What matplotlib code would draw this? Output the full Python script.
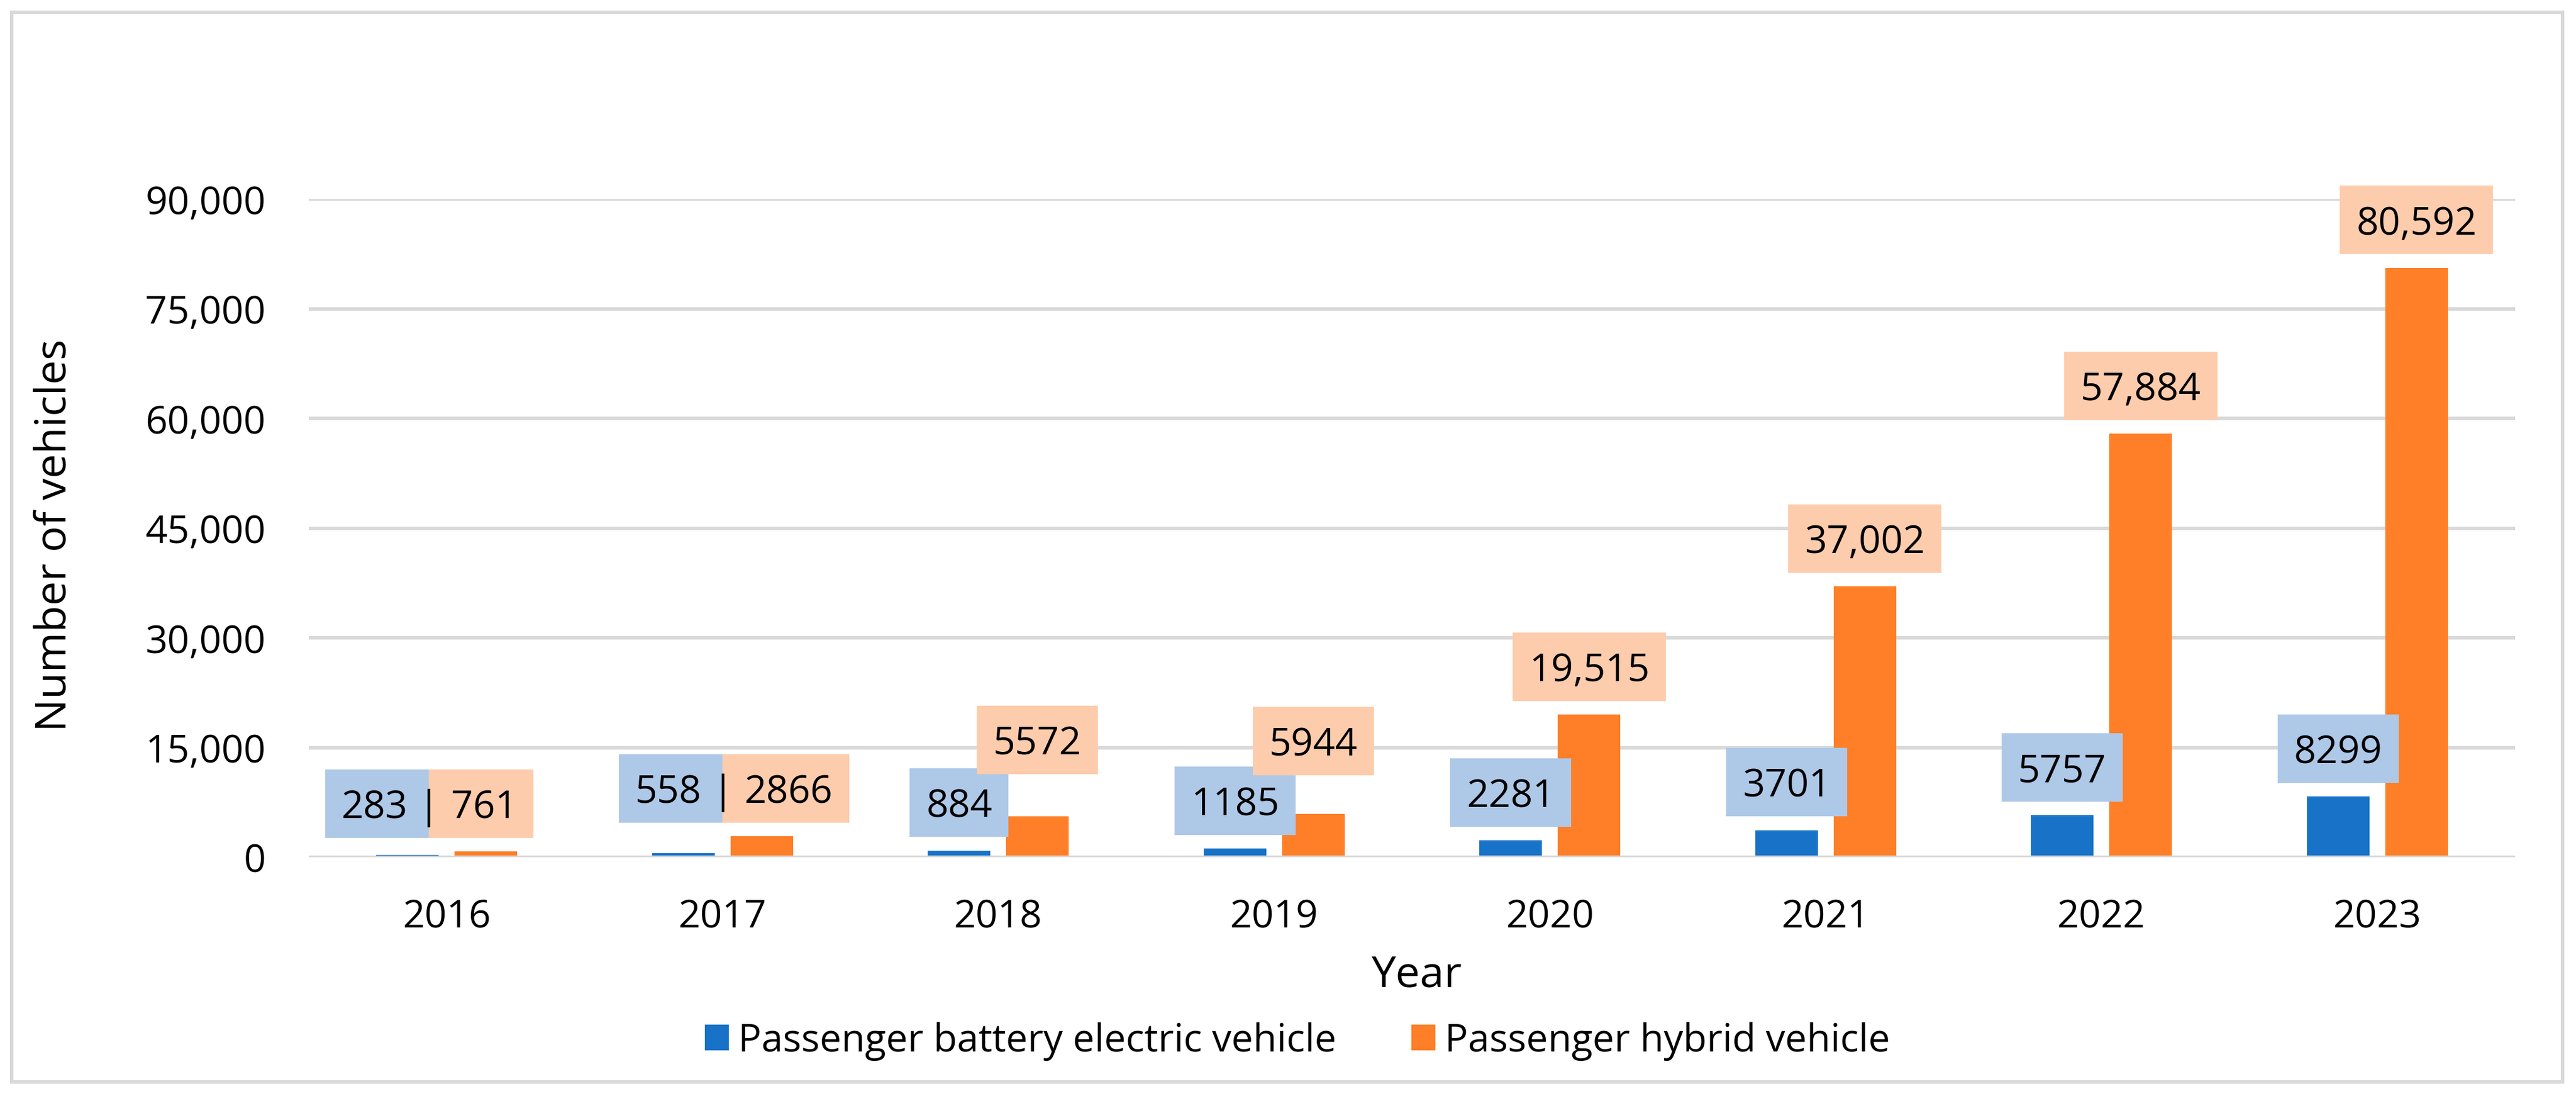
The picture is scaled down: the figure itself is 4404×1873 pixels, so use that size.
import numpy as np
import matplotlib.pyplot as plt
from matplotlib.patches import Rectangle
from matplotlib.ticker import FuncFormatter

plt.rcParams['font.family'] = ['Open Sans', 'DejaVu Sans']

# Data
years = [2016, 2017, 2018, 2019, 2020, 2021, 2022, 2023]
bev = [283, 558, 884, 1185, 2281, 3701, 5757, 8299]
hybrid = [761, 2866, 5572, 5944, 19515, 37002, 57884, 80592]
y_ticks = [0, 15000, 30000, 45000, 60000, 75000, 90000]
series_names = ["Passenger battery electric vehicle", "Passenger hybrid vehicle"]

# Colours
BLUE = "#1873C8"
ORANGE = "#FE7F27"
BLUE_BOX = "#AEC8E8"
ORANGE_BOX = "#FDCCAC"
GRID = "#D9D9D9"

W, H = 4404, 1874
fig = plt.figure(figsize=(W / 100, H / 100), dpi=100)
ax = fig.add_axes([528 / W, 408 / H, 3772 / W, 1125 / H])

x = np.arange(len(years))
width = 0.227
shift = 0.142
b1 = ax.bar(x - shift, bev, width, color=BLUE, label=series_names[0], zorder=2)
b2 = ax.bar(x + shift, hybrid, width, color=ORANGE, label=series_names[1], zorder=2)

ax.set_xlim(-0.5, len(years) - 0.5)
ax.set_ylim(0, 90000)
ax.set_yticks(y_ticks)
ax.yaxis.set_major_formatter(FuncFormatter(lambda v, p: f"{int(v):,}"))
ax.set_xticks(x, [str(y) for y in years])
ax.tick_params(axis='both', length=0, labelsize=47.5, colors='black')
ax.tick_params(axis='y', pad=53)
ax.tick_params(axis='x', pad=50)
for s in ax.spines.values():
    s.set_visible(False)
ax.yaxis.grid(True, color=GRID, linewidth=4.3)
ax.set_axisbelow(True)
ax.axhline(0, color=GRID, linewidth=4.3, zorder=3)

PX = 0.72  # pixels -> points at dpi 100
LIFT = 82  # label centre above bar top, px
CAP = 48   # digit height, px


def fmt(v):
    return f"{v:,}" if v >= 10000 else str(v)


labels = []  # (text, box colour, centre y in display handled later)

# combined labels for the first two years, single labels for the rest
combined = {2016: -31, 2017: 0}
extra_lift = {2018: 49, 2019: 42}

for i, yr in enumerate(years):
    if yr in combined:
        dx = combined[yr]
        base = (LIFT - CAP / 2) * PX
        tl = ax.annotate(str(bev[i]), (i, hybrid[i]), xytext=((dx - 36) * PX, base),
                         textcoords='offset points', ha='right', va='baseline',
                         fontsize=47.5, zorder=6, annotation_clip=False)
        ax.annotate("|", (i, hybrid[i]), xytext=(dx * PX, base),
                    textcoords='offset points', ha='center', va='baseline',
                    fontsize=47.5, zorder=6, annotation_clip=False)
        tr = ax.annotate(str(hybrid[i]), (i, hybrid[i]), xytext=((dx + 38) * PX, base),
                         textcoords='offset points', ha='left', va='baseline',
                         fontsize=47.5, zorder=6, annotation_clip=False)
        labels.append(("pair", tl, tr, i, hybrid[i], dx))
    else:
        for xi, val, col, lift in ((i - shift, bev[i], BLUE_BOX, LIFT),
                                   (i + shift, hybrid[i], ORANGE_BOX, LIFT + extra_lift.get(yr, 0))):
            t = ax.annotate(fmt(val), (xi, val), xytext=(0, (lift - CAP / 2) * PX),
                            textcoords='offset points', ha='center', va='baseline',
                            fontsize=47.5, zorder=6, annotation_clip=False)
            labels.append(("single", t, col, xi, val, lift))

fig.canvas.draw()
renderer = fig.canvas.get_renderer()
inv = ax.transData.inverted()


def add_box(x0, x1, yc, col):
    (dx0, dy0) = inv.transform((x0, yc - 58.5))
    (dx1, dy1) = inv.transform((x1, yc + 58.5))
    ax.add_patch(Rectangle((dx0, dy0), dx1 - dx0, dy1 - dy0, facecolor=col,
                           edgecolor='none', zorder=5, clip_on=False))


for item in labels:
    if item[0] == "single":
        _, t, col, xi, val, lift = item
        bb = t.get_window_extent(renderer)
        yc = ax.transData.transform((xi, val))[1] + lift
        add_box(bb.x0 - 28, bb.x1 + 28, yc, col)
    else:
        _, tl, tr, i, val, dx = item
        bl = tl.get_window_extent(renderer)
        br = tr.get_window_extent(renderer)
        px, py = ax.transData.transform((i, val))
        sep = px + dx
        yc = py + LIFT
        add_box(bl.x0 - 28, sep, yc, BLUE_BOX)
        add_box(sep, br.x1 + 28, yc, ORANGE_BOX)

# axis titles
fig.text(94 / W, 1 - 915 / H, "Number of vehicles", rotation=90, ha='center', va='center',
         fontsize=53.5)
fig.text(2422 / W, 1 - 1688 / H, "Year", ha='center', va='baseline', fontsize=53.5)

fig.legend(handles=[b1, b2], loc='center', bbox_to_anchor=(2218 / W, 1 - 1780 / H),
           ncol=2, frameon=False, fontsize=47.5, handlelength=0.63, handleheight=0.63,
           handletextpad=0.24, columnspacing=1.94, borderaxespad=0, borderpad=0)

# chart frame
fig.add_artist(Rectangle((20 / W, 24 / H), (4381 - 20) / W, (1850 - 22) / H,
                         transform=fig.transFigure, fill=False, edgecolor=GRID,
                         linewidth=4.3))

fig.savefig("out.png", dpi=100)
